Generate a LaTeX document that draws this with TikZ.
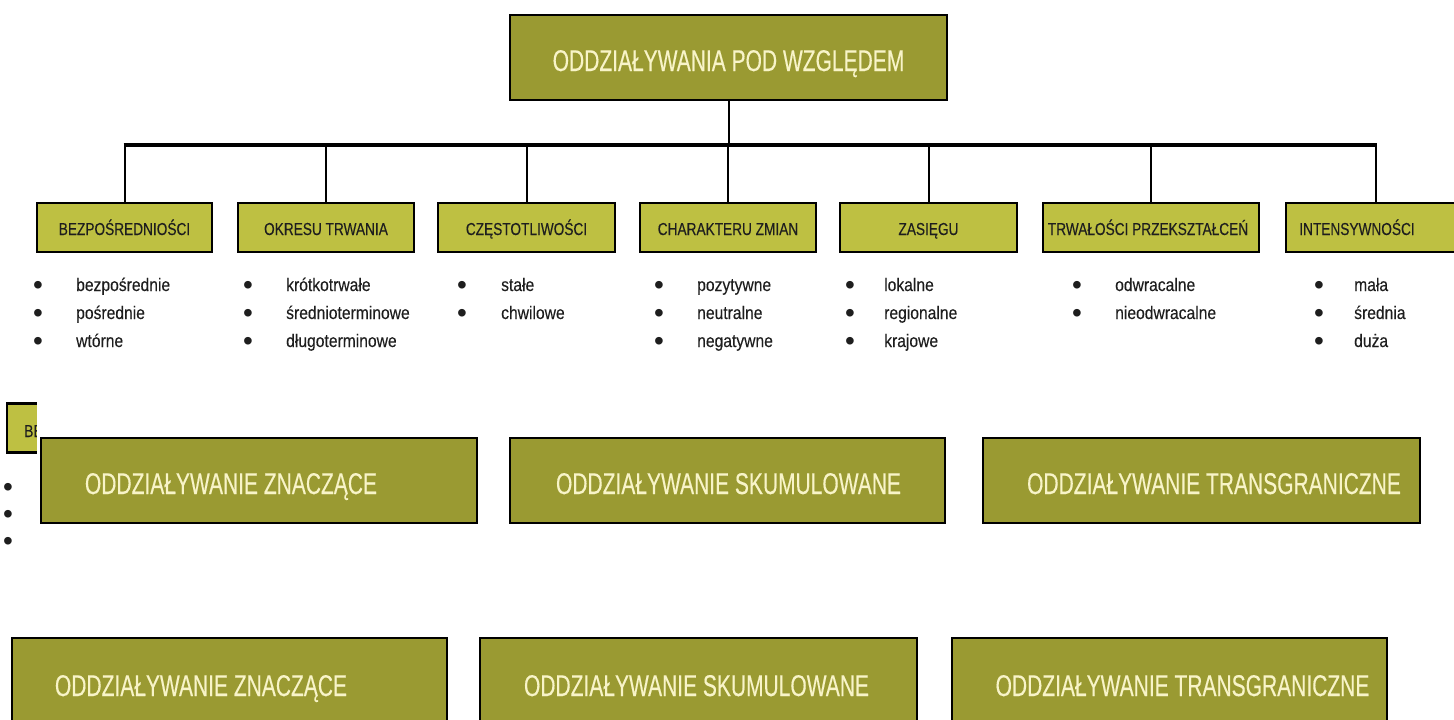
\documentclass[tikz,border=0pt]{standalone}
\usepackage{fontspec}
\setmainfont{Liberation Sans}
\newfontfamily\bigf[FakeStretch=0.70,FakeBold=0.3]{Liberation Sans}
\newfontfamily\catf[FakeStretch=0.79,FakeBold=0.2]{Liberation Sans}
\newfontfamily\listf[FakeStretch=0.86,FakeBold=0.15]{Liberation Sans}
\definecolor{bigfill}{RGB}{154,154,50}
\definecolor{catfill}{RGB}{190,192,66}
\definecolor{bigtextcol}{RGB}{248,244,200}
\definecolor{darktext}{RGB}{30,30,30}
\newcommand\dotb{\raisebox{-3.6pt}{\normalfont\fontsize{28}{0}\selectfont\textbullet}}
\newcommand\bl[1][41pt]{\makebox[#1][l]{\hspace{-2.2pt}\dotb}}
\begin{document}
\begin{tikzpicture}[x=1pt,y=-1pt,
  bigbox/.style={draw=black,line width=2.8pt,fill=bigfill,minimum width=#1,minimum height=85pt,inner sep=0pt},
  catbox/.style={draw=black,line width=2.6pt,fill=catfill,minimum width=#1,minimum height=49pt,inner sep=0pt},
  bigtext/.style={anchor=base,inner sep=0pt,text=bigtextcol,font=\bigf\fontsize{30}{36}\selectfont},
  cattext/.style={anchor=base,inner sep=0pt,text=darktext,font=\catf\fontsize{17.3}{20}\selectfont},
  listnode/.style={anchor=base west,inner sep=0pt,text=darktext,font=\listf\fontsize{18.2}{28}\selectfont},
  conn/.style={draw=black,line width=2pt},
  barline/.style={draw=black,line width=3.2pt}]
\clip (0,0) rectangle (1454,720);
\fill[white] (0,0) rectangle (1454,720);

% top box
\node[bigbox=437pt] (top) at (728.5,57.5) {};
\node[bigtext] (toptext) at (728.5,71) {ODDZIAŁYWANIA POD WZGLĘDEM};

% category boxes
\node[catbox=175pt] (c1) at (124.5,227.5) {};
\node[catbox=176pt] (c2) at (326,227.5) {};
\node[catbox=177pt] (c3) at (526.5,227.5) {};
\node[catbox=176pt] (c4) at (728,227.5) {};
\node[catbox=177pt] (c5) at (928.5,227.5) {};
\node[catbox=216pt] (c6) at (1151,227.5) {};
\node[catbox=180pt] (c7) at (1376,227.5) {};
\node[cattext] (c1t) at (124.5,235) {BEZPOŚREDNIOŚCI};
\node[cattext] (c2t) at (326,235) {OKRESU TRWANIA};
\node[cattext] (c3t) at (526.5,235) {CZĘSTOTLIWOŚCI};
\node[cattext] (c4t) at (728,235) {CHARAKTERU ZMIAN};
\node[cattext] (c5t) at (928.5,235) {ZASIĘGU};
\node[cattext] (c6t) at (1148,235) {TRWAŁOŚCI PRZEKSZTAŁCEŃ};
\node[cattext] (c7t) at (1357,235) {INTENSYWNOŚCI};

% connectors
\coordinate (bar) at (0,145);
\draw[conn] (top.south) -- (top.south |- bar);
\draw[barline] ([xshift=-1pt]c1.north |- bar) -- ([xshift=1pt]c7.north |- bar);
\foreach \c in {c1,c2,c3,c4,c5,c6,c7}
  \draw[conn] (\c.north |- bar) -- (\c.north);

% lists
\node[listnode] (l1) at (35,291) {\begin{tabular}[t]{@{}l@{}l@{}}\bl&bezpośrednie\\\bl&pośrednie\\\bl&wtórne\end{tabular}};
\node[listnode] (l2) at (245,291) {\begin{tabular}[t]{@{}l@{}l@{}}\bl&krótkotrwałe\\\bl&średnioterminowe\\\bl&długoterminowe\end{tabular}};
\node[listnode] (l3) at (459,291) {\begin{tabular}[t]{@{}l@{}l@{}}\bl[42pt]&stałe\\\bl[42pt]&chwilowe\end{tabular}};
\node[listnode] (l4) at (656,291) {\begin{tabular}[t]{@{}l@{}l@{}}\bl&pozytywne\\\bl&neutralne\\\bl&negatywne\end{tabular}};
\node[listnode] (l5) at (847,291) {\begin{tabular}[t]{@{}l@{}l@{}}\bl[37pt]&lokalne\\\bl[37pt]&regionalne\\\bl[37pt]&krajowe\end{tabular}};
\node[listnode] (l6) at (1074,291) {\begin{tabular}[t]{@{}l@{}l@{}}\bl&odwracalne\\\bl&nieodwracalne\end{tabular}};
\node[listnode] (l7) at (1316,291) {\begin{tabular}[t]{@{}l@{}l@{}}\bl[38pt]&mała\\\bl[38pt]&średnia\\\bl[38pt]&duża\end{tabular}};

% partly hidden copy on the left
\node[catbox=175pt] (hid) at (94.5,428) {};
\node[cattext] (hidt) at (90,437) {BEZPOŚREDNIOŚCI};
\node[listnode,font=\listf\fontsize{18.2}{27}\selectfont] (hidl) at (5,493) {\begin{tabular}[t]{@{}l@{}}\bl[10pt]\\\bl[10pt]\\\bl[10pt]\end{tabular}};

% white backing of the middle row
\fill[white] (37,396) rectangle (1454,532);

% middle row
\node[bigbox=436pt] (m1) at (259,480.5) {};
\node[bigbox=435pt] (m2) at (727.5,480.5) {};
\node[bigbox=437pt] (m3) at (1201.5,480.5) {};
\node[bigtext] (m1t) at (231,494) {ODDZIAŁYWANIE ZNACZĄCE};
\node[bigtext] (m2t) at (728.5,494) {ODDZIAŁYWANIE SKUMULOWANE};
\node[bigtext] (m3t) at (1214,494) {ODDZIAŁYWANIE TRANSGRANICZNE};

% bottom row
\node[bigbox=435pt] (b1) at (229.5,680.5) {};
\node[bigbox=437pt] (b2) at (698.5,680.5) {};
\node[bigbox=435pt] (b3) at (1169.5,680.5) {};
\node[bigtext] (b1t) at (201,696) {ODDZIAŁYWANIE ZNACZĄCE};
\node[bigtext] (b2t) at (696.5,696) {ODDZIAŁYWANIE SKUMULOWANE};
\node[bigtext] (b3t) at (1182.5,696) {ODDZIAŁYWANIE TRANSGRANICZNE};
\end{tikzpicture}
\end{document}
